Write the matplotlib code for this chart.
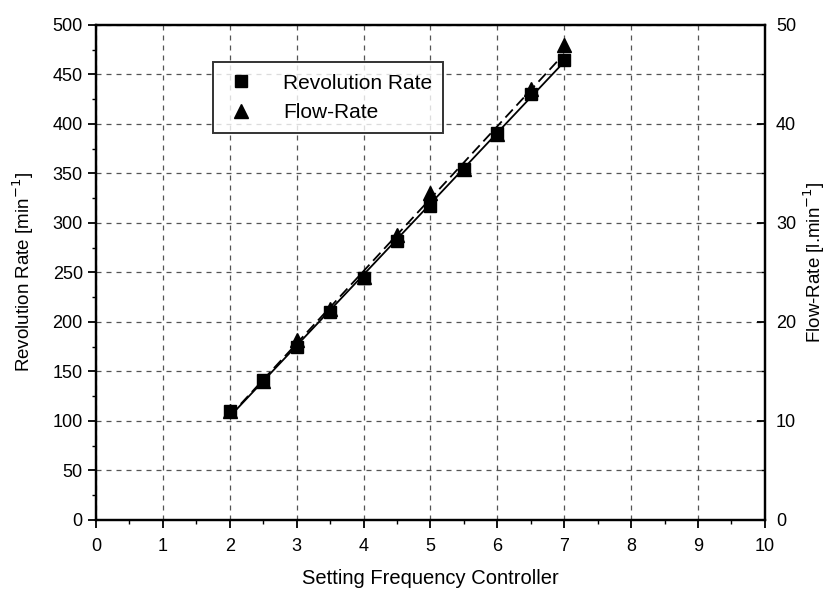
import numpy as np
import matplotlib.pyplot as plt

plt.rcParams['font.family'] = ['Liberation Sans', 'DejaVu Sans']

# setting of the frequency controller
setting = [2, 2.5, 3, 3.5, 4, 4.5, 5, 5.5, 6, 6.5, 7]
# revolution rate [min^-1]
rev_rate = [110, 141, 175, 210, 244, 282, 317, 355, 391, 430, 465]
# flow rate [l.min^-1]
flow_rate = [11.0, 14.0, 18.2, 21.3, 24.5, 28.8, 33.0, 35.5, 39.0, 43.5, 48.0]

fig = plt.figure(figsize=(8.31, 5.94), dpi=100)
ax = fig.add_axes([0.1155, 0.1246, 0.805, 0.8334])
ax2 = ax.twinx()

# linear fits
xs = np.array([setting[0], setting[-1]])
p_rev = np.polyfit(setting, rev_rate, 1)
p_flow = np.polyfit(setting, flow_rate, 1)

ax.plot(xs, np.polyval(p_rev, xs), '-', color='black', lw=1.3, zorder=3)
ax2.plot(xs, np.polyval(p_flow, xs), '--', color='black', lw=1.3, dashes=(6, 3), zorder=3)
h1, = ax.plot(setting, rev_rate, 's', color='black', ms=9, ls='none', label='Revolution Rate', zorder=4)
h2, = ax2.plot(setting, flow_rate, '^', color='black', ms=10, ls='none', label='Flow-Rate', zorder=4)

ax.set_xlim(0, 10)
ax.set_ylim(0, 500)
ax2.set_ylim(0, 50)
ax.set_xticks(np.arange(0, 11, 1))
ax.set_xticks(np.arange(0, 10.01, 0.5), minor=True)
ax.set_yticks(np.arange(0, 501, 50))
ax.set_yticks(np.arange(0, 501, 25), minor=True)
ax2.set_yticks(np.arange(0, 51, 10))
ax2.set_yticks(np.arange(0, 51, 5), minor=True)

ax.tick_params(which='major', length=6, width=1.3, labelsize=13)
ax.tick_params(which='minor', length=3, width=1)
ax.tick_params(axis='x', which='both', top=False, pad=7)
ax2.tick_params(which='major', direction='in', length=6, width=1.3, labelsize=13, pad=8)
ax2.tick_params(which='minor', direction='in', length=3, width=1)
for a in (ax, ax2):
    for s in a.spines.values():
        s.set_linewidth(1.6)

ax.grid(True, which='major', ls=(0, (4, 4)), color='#555555', lw=0.9)

ax.set_xlabel('Setting Frequency Controller', fontsize=14.5)
ax.set_ylabel('Revolution Rate [min$^{-1}$]', fontsize=13.5)
ax2.set_ylabel('Flow-Rate [l.min$^{-1}$]', fontsize=13.5)
ax.xaxis.set_label_coords(0.5, -0.099)
ax.yaxis.set_label_coords(-0.09, 0.5)
ax2.yaxis.set_label_coords(1.054, 0.52)

leg = ax.legend(handles=[h1, h2], loc='upper left', bbox_to_anchor=(0.175, 0.925),
                fontsize=15, frameon=True, fancybox=False, edgecolor='black',
                borderpad=0.55, borderaxespad=0, handlelength=1.6, handletextpad=1.2,
                labelspacing=0.5)
leg.get_frame().set_linewidth(1.4)
leg.set_zorder(5)

fig.savefig('out.png', dpi=100)
